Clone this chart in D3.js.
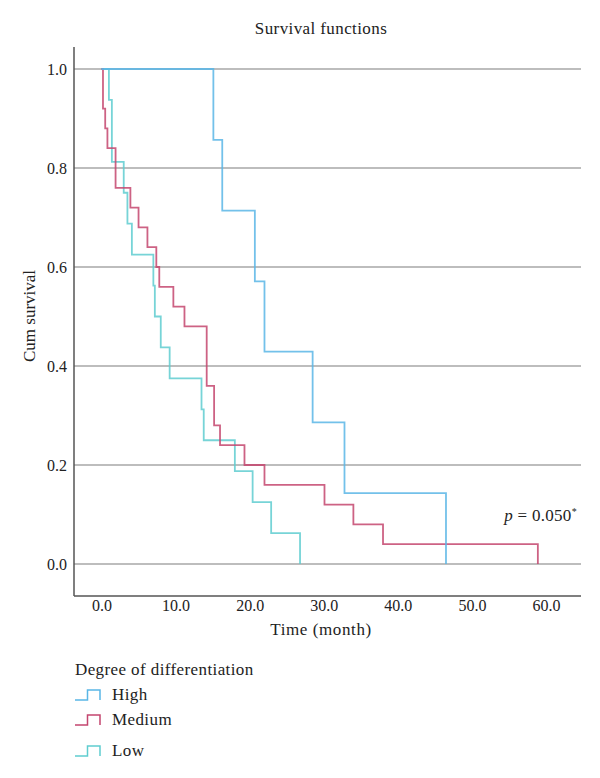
<!DOCTYPE html>
<html>
<head>
<meta charset="utf-8">
<script src="https://cdn.jsdelivr.net/npm/d3@7"></script>
<style>
  body { margin: 0; background: #fff; }
  text { font-family: "Liberation Serif", "DejaVu Serif", serif; fill: #222; }
</style>
</head>
<body>
<svg id="chart" width="600" height="778"></svg>
<script>
// values: event times (months) and survival after each event
const highTimes = [0, 15.1, 16.3, 20.7, 22.0, 28.5, 32.8, 46.5];
const highSurv  = [1, 0.857, 0.714, 0.571, 0.429, 0.286, 0.143, 0];

const mediumTimes = [0, 0.2, 0.5, 0.8, 1.9, 3.9, 5.0, 6.2, 7.4, 7.8, 9.7, 11.2, 14.2, 15.2, 16.0, 19.3, 22.0, 30.1, 34.0, 38.0, 58.9];
const mediumSurv  = [1, 0.92, 0.88, 0.84, 0.76, 0.72, 0.68, 0.64, 0.60, 0.56, 0.52, 0.48, 0.36, 0.28, 0.24, 0.20, 0.16, 0.12, 0.08, 0.04, 0];

const lowTimes = [0, 1.0, 1.4, 3.0, 3.5, 4.1, 7.0, 7.2, 8.0, 9.2, 13.5, 13.8, 18.0, 20.4, 22.9, 26.8];
const lowSurv  = [1, 0.9375, 0.8125, 0.75, 0.6875, 0.625, 0.5625, 0.5, 0.4375, 0.375, 0.3125, 0.25, 0.1875, 0.125, 0.0625, 0];

const xTicks = [0, 10, 20, 30, 40, 50, 60];
const yTicks = [0, 0.2, 0.4, 0.6, 0.8, 1.0];

const groups = [
  { name: "Low",    times: lowTimes,    surv: lowSurv,    color: "#5fcdd0" },
  { name: "Medium", times: mediumTimes, surv: mediumSurv, color: "#c4466f" },
  { name: "High",   times: highTimes,   surv: highSurv,   color: "#5ab6e6" }
];
const legendOrder = ["High", "Medium", "Low"];

const svg = d3.select("#chart");

const plotLeft = 74, plotRight = 581, plotTop = 47, plotBottom = 596;

const x = d3.scaleLinear().domain([0, 60]).range([101.5, 546]);
const y = d3.scaleLinear().domain([0, 1]).range([564, 69]);

// title
svg.append("text")
  .attr("x", 321).attr("y", 34)
  .attr("text-anchor", "middle")
  .style("font-size", "17px")
  .style("letter-spacing", "0.4px")
  .text("Survival functions");

// gridlines
svg.selectAll(".grid")
  .data(yTicks)
  .enter()
  .append("line")
  .attr("x1", plotLeft).attr("x2", plotRight)
  .attr("y1", d => y(d)).attr("y2", d => y(d))
  .attr("stroke", "#bdbdbd")
  .attr("stroke-width", 1.8);

// y axis
const yAxis = d3.axisLeft(y).tickValues(yTicks).tickFormat(d3.format(".1f")).tickSize(0).tickPadding(7);
const gy = svg.append("g").attr("transform", `translate(${plotLeft},0)`).call(yAxis);
gy.select(".domain").remove();
gy.selectAll("text").style("font-size", "16px").style("font-family", "Liberation Serif").attr("fill", "#222");

// x axis
const xAxis = d3.axisBottom(x).tickValues(xTicks).tickFormat(d3.format(".1f")).tickSize(0).tickPadding(4);
const gx = svg.append("g").attr("transform", `translate(0,${plotBottom})`).call(xAxis);
gx.select(".domain").remove();
gx.selectAll("text").style("font-size", "16px").style("font-family", "Liberation Serif").attr("fill", "#222");

// frame lines
svg.append("line")
  .attr("x1", plotLeft).attr("x2", plotLeft).attr("y1", plotTop).attr("y2", plotBottom)
  .attr("stroke", "#555").attr("stroke-width", 1.5);
svg.append("line")
  .attr("x1", plotLeft).attr("x2", plotRight).attr("y1", plotBottom).attr("y2", plotBottom)
  .attr("stroke", "#555").attr("stroke-width", 1.5);

// axis titles
svg.append("text")
  .attr("x", 321).attr("y", 635)
  .attr("text-anchor", "middle")
  .style("font-size", "17px")
  .style("letter-spacing", "0.6px")
  .text("Time (month)");

svg.append("text")
  .attr("transform", "translate(35,316) rotate(-90)")
  .attr("text-anchor", "middle")
  .style("font-size", "17px")
  .text("Cum survival");

// survival curves
const line = d3.line()
  .x(d => x(d[0]))
  .y(d => y(d[1]))
  .curve(d3.curveStepAfter);

svg.selectAll(".curve")
  .data(groups)
  .enter()
  .append("path")
  .attr("class", "curve")
  .attr("d", g => line(g.times.map((t, i) => [t, g.surv[i]])))
  .attr("fill", "none")
  .attr("stroke", g => g.color)
  .attr("stroke-width", 1.8)
  .attr("stroke-opacity", 0.85);

// p value
const pText = svg.append("text")
  .attr("x", 577).attr("y", 521)
  .attr("text-anchor", "end")
  .style("font-size", "17px")
  .style("letter-spacing", "0.3px");
pText.append("tspan").style("font-style", "italic").text("p");
pText.append("tspan").text(" = 0.050");
pText.append("tspan").attr("dy", -6).style("font-size", "10px").text("*");

// legend
svg.append("text")
  .attr("x", 75).attr("y", 675)
  .style("font-size", "17px")
  .style("letter-spacing", "0.4px")
  .text("Degree of differentiation");

const legendY = { High: 695, Medium: 720, Low: 751 };
const legend = svg.selectAll(".legend")
  .data(legendOrder.map(n => groups.find(g => g.name === n)))
  .enter()
  .append("g")
  .attr("transform", g => `translate(0,${legendY[g.name]})`);

legend.append("path")
  .attr("d", "M75,5 H87.5 V-5 H100 V5")
  .attr("fill", "none")
  .attr("stroke", g => g.color)
  .attr("stroke-width", 1.5);

legend.append("text")
  .attr("x", 112).attr("y", 5)
  .style("font-size", "17px")
  .style("letter-spacing", "0.4px")
  .text(g => g.name);
</script>
</body>
</html>
